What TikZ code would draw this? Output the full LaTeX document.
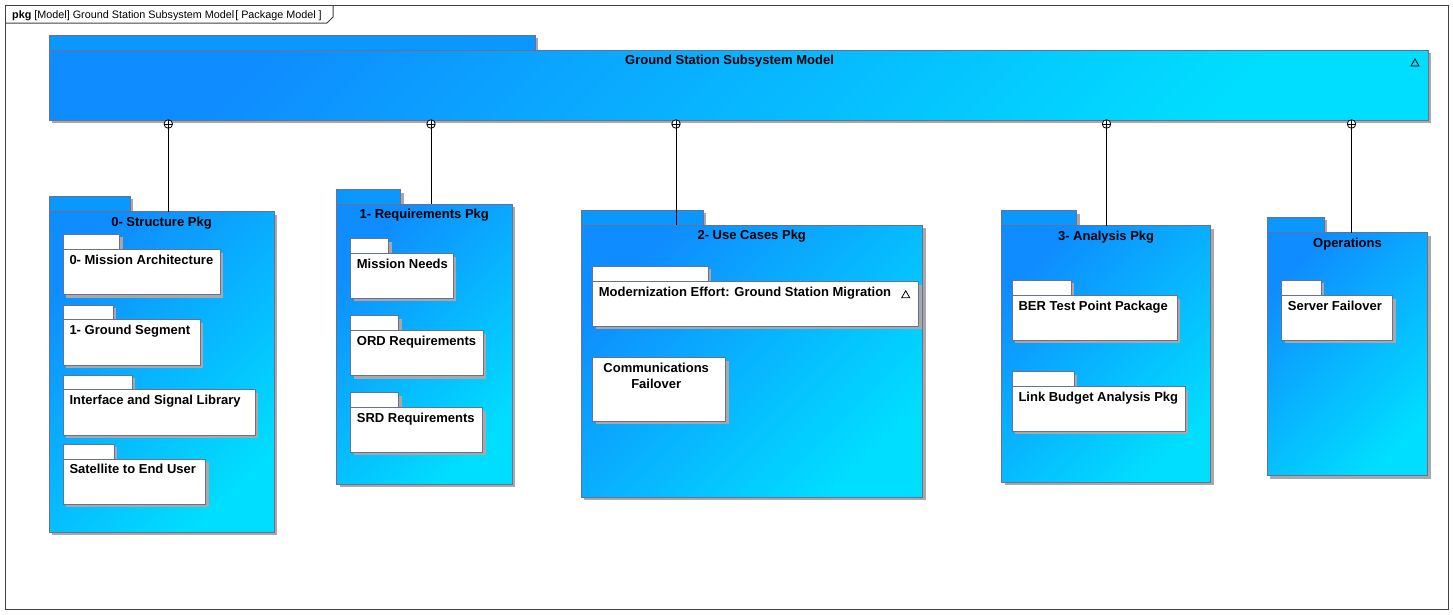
\documentclass[tikz,border=0pt]{standalone}
\usepackage{fontspec}
\setmainfont{Liberation Sans}
\usetikzlibrary{fit,shadows}

\definecolor{pkgedge}{RGB}{105,112,150}
\definecolor{pkgtab}{RGB}{10,152,255}
\definecolor{pkgdeep}{RGB}{15,140,255}
\definecolor{pkglight}{RGB}{0,222,255}
\definecolor{pkgshade}{RGB}{168,168,168}
\definecolor{framegray}{RGB}{64,64,64}

\tikzset{
  base box/.style={fit={#1}, inner sep=0pt, outer sep=0pt, draw=pkgedge, line width=1pt,
    general shadow={fill=pkgshade, shadow xshift=3pt, shadow yshift=-3pt}},
  outer tab/.style={base box={#1}, fill=pkgtab},
  outer body/.style={base box={#1}, top color=pkgdeep, bottom color=pkglight, shading angle=45},
  inner tab/.style={base box={#1}, fill=white},
  inner body/.style={base box={#1}, fill=white},
  title/.style={font=\fontsize{13}{15}\selectfont\bfseries, inner sep=0pt, anchor=base},
  ltitle/.style={title, anchor=base west},
  own/.style={circle, draw=black, fill=white, line width=0.8pt, minimum size=8.5pt,
    inner sep=0pt, outer sep=0pt,
    path picture={\draw[line width=0.8pt]
      (path picture bounding box.north) -- (path picture bounding box.south)
      (path picture bounding box.west) -- (path picture bounding box.east);}},
  wire/.style={draw=black, line width=1pt},
}

% package with tab: kind, name, left, tab top, tab right, body top, right, bottom
\newcommand\pkg[8]{%
  \node[#1 tab={(#3,#4) (#5,#6)}] (#2-tab) {};
  \node[#1 body={(#3,#6) (#7,#8)}] (#2) {};
}
% small collapse triangle in the upper right corner of a package
\newcommand\collapsemark[1]{%
  \draw[line width=0.8pt] ([xshift=-17pt,yshift=-16pt]#1.north east) -- ++(8,0) -- ++(-4,-7) -- cycle;}

\begin{document}
\begin{tikzpicture}[x=1pt, y=-1pt]
\useasboundingbox (0,0) rectangle (1453,614);

% diagram frame and header tab
\node[draw=framegray, line width=1pt, fit={(5,5) (1448,609)}, inner sep=0pt, outer sep=0pt] (frame) {};
\draw[framegray, line width=1pt] (5,23) -- (327,23) -- (333,17) -- (333,5);
\node[font=\fontsize{10.8}{12}\selectfont, anchor=base west, inner sep=0pt] (hdr) at (12,18)
  {\textbf{pkg} [Model] Ground Station Subsystem Model\kern1pt[ Package Model ]};

% model package
\pkg{outer}{gss}{49}{35}{535}{50}{1428}{120}
\node[title] (t-gss) at ([xshift=-9pt,yshift=-14.5pt]gss.north) {Ground Station Subsystem Model};
\collapsemark{gss}

% 0- Structure Pkg
\pkg{outer}{p0}{49}{196}{130}{211.5}{274}{532}
\node[title] (t-p0) at ([yshift=-14.5pt]p0.north) {0- Structure Pkg};
\pkg{inner}{m0}{63.3}{234.3}{119.5}{249.7}{220}{294.5}
\node[ltitle] (t-m0) at ([xshift=6pt,yshift=-14.5pt]m0.north west) {0- Mission Architecture};
\pkg{inner}{m1}{63.3}{305}{113}{319.5}{200}{365}
\node[ltitle] (t-m1) at ([xshift=6pt,yshift=-14.5pt]m1.north west) {1- Ground Segment};
\pkg{inner}{m2}{63.3}{375}{132}{389.5}{255}{435}
\node[ltitle] (t-m2) at ([xshift=6pt,yshift=-14.5pt]m2.north west) {Interface and Signal Library};
\pkg{inner}{m3}{63.3}{444.3}{114.3}{459}{205.7}{504.3}
\node[ltitle] (t-m3) at ([xshift=6pt,yshift=-14.5pt]m3.north west) {Satellite to End User};

% 1- Requirements Pkg
\pkg{outer}{p1}{336.5}{189.5}{400.5}{204.3}{512}{484}
\node[title] (t-p1) at ([yshift=-14.5pt]p1.north) {1- Requirements Pkg};
\pkg{inner}{r0}{350.7}{238.7}{388.7}{253.7}{453.3}{298.3}
\node[ltitle] (t-r0) at ([xshift=6pt,yshift=-14.5pt]r0.north west) {Mission Needs};
\pkg{inner}{r1}{350.7}{315.7}{398.7}{330.7}{483}{375.5}
\node[ltitle] (t-r1) at ([xshift=6pt,yshift=-14.5pt]r1.north west) {ORD Requirements};
\pkg{inner}{r2}{350.7}{392.7}{398.7}{407.7}{482.7}{452.3}
\node[ltitle] (t-r2) at ([xshift=6pt,yshift=-14.5pt]r2.north west) {SRD Requirements};

% 2- Use Cases Pkg
\pkg{outer}{p2}{581}{210}{703}{225}{922.5}{497}
\node[title] (t-p2) at ([yshift=-14.5pt]p2.north) {2- Use Cases Pkg};
\pkg{inner}{u0}{592.7}{266.3}{708.3}{281.7}{918.7}{326}
\node[ltitle] (t-u0) at ([xshift=6pt,yshift=-14.5pt]u0.north west) {Modernization Effort: Ground Station Migration};
\collapsemark{u0}
\node[inner body={(592.7,357.7) (725.7,421.3)}] (u1) {};
\node[title] (t-u1a) at ([xshift=-3pt,yshift=-15pt]u1.north) {Communications};
\node[title] (t-u1b) at ([xshift=-3pt,yshift=-31pt]u1.north) {Failover};

% 3- Analysis Pkg
\pkg{outer}{p3}{1001.5}{210.5}{1076.5}{225.5}{1210.7}{482.3}
\node[title] (t-p3) at ([yshift=-14.5pt]p3.north) {3- Analysis Pkg};
\pkg{inner}{a0}{1012.3}{280.3}{1071}{295.7}{1177.3}{340}
\node[ltitle] (t-a0) at ([xshift=6pt,yshift=-14.5pt]a0.north west) {BER Test Point Package};
\pkg{inner}{a1}{1012.3}{371.7}{1074.3}{386.7}{1185.3}{431}
\node[ltitle] (t-a1) at ([xshift=6pt,yshift=-14.5pt]a1.north west) {Link Budget Analysis Pkg};

% Operations
\pkg{outer}{p4}{1267.3}{217.3}{1324.3}{232.7}{1427.7}{475.5}
\node[title] (t-p4) at ([yshift=-14.5pt]p4.north) {Operations};
\pkg{inner}{s0}{1281.7}{280.3}{1321.3}{295.7}{1392.7}{340.3}
\node[ltitle] (t-s0) at ([xshift=6pt,yshift=-14.5pt]s0.north west) {Server Failover};

% containment connectors
\node[own] (o0) at (168.3,124) {};
\node[own] (o1) at (431,124) {};
\node[own] (o2) at (676,124) {};
\node[own] (o3) at (1106.5,124) {};
\node[own] (o4) at (1351.5,124) {};
\draw[wire] (o0.south) -- (p0.north -| o0.south);
\draw[wire] (o1.south) -- (p1.north -| o1.south);
\draw[wire] (o2.south) -- (p2.north -| o2.south);
\draw[wire] (o3.south) -- (p3.north -| o3.south);
\draw[wire] (o4.south) -- (p4.north -| o4.south);
\end{tikzpicture}
\end{document}
